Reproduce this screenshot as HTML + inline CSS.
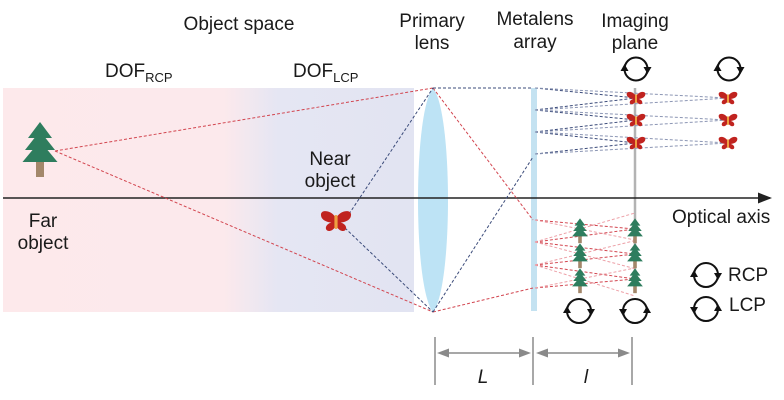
<!DOCTYPE html>
<html><head><meta charset="utf-8"><style>
html,body{margin:0;padding:0;background:#fff;}
svg{display:block;}
text{font-family:"Liberation Sans",Arial,sans-serif;fill:#1a1a1a;}
</style></head><body>
<svg width="784" height="400" viewBox="0 0 784 400" xmlns="http://www.w3.org/2000/svg">
<defs>
<linearGradient id="bg" x1="0" y1="0" x2="414" y2="0" gradientUnits="userSpaceOnUse">
<stop offset="0" stop-color="#fde9eb"/>
<stop offset="0.54" stop-color="#fce9ec"/>
<stop offset="0.67" stop-color="#e5e6f3"/>
<stop offset="1" stop-color="#e2e4f2"/>
</linearGradient>
<g id="bf">
<path d="M-1,-4 C-4,-10 -14,-12 -15,-7 C-15.5,-2 -11,1.5 -1,2 Z" fill="#c0231f"/>
<path d="M-1,1 C-6,1 -11,4 -10,8 C-9,11 -4,11 -1,6 Z" fill="#c0231f"/>
<path d="M1,-4 C4,-10 14,-12 15,-7 C15.5,-2 11,1.5 1,2 Z" fill="#c0231f"/>
<path d="M1,1 C6,1 11,4 10,8 C9,11 4,11 1,6 Z" fill="#c0231f"/>
<rect x="-1.6" y="-6" width="3.2" height="14" rx="1.5" fill="#eea040"/>
</g>
<g id="tree">
<rect x="-4" y="11" width="8" height="16" fill="#a3876a"/>
<polygon points="0,-28 -12,-12 12,-12" fill="#2e7d5e"/>
<polygon points="0,-19 -15,0 15,0" fill="#2e7d5e"/>
<polygon points="0,-9 -17.5,12 17.5,12" fill="#2e7d5e"/>
</g>
</defs>

<!-- object space band -->
<rect x="3" y="88" width="411" height="224" fill="url(#bg)"/>

<!-- primary lens -->
<path d="M433,88 C453,112 453,288 433,312 C413,288 413,112 433,88 Z" fill="#bde3f5"/>
<!-- metalens array -->
<rect x="531" y="88" width="6" height="223" fill="#c4e2f1"/>
<!-- imaging plane -->
<line x1="635" y1="88" x2="635" y2="293" stroke="#b3b3b3" stroke-width="2.5"/>

<!-- optical axis -->
<line x1="3" y1="198" x2="770" y2="198" stroke="#222" stroke-width="1.6"/>
<polygon points="772,198 758,192.5 758,203.5" fill="#222"/>

<!-- rays: far object (red) -->
<g stroke="#d2454f" stroke-width="1" stroke-dasharray="3,2" fill="none">
<line x1="55" y1="151" x2="433" y2="88"/>
<line x1="55" y1="151" x2="433" y2="312"/>
<line x1="433" y1="88" x2="533" y2="220"/>
<line x1="433" y1="312" x2="533" y2="288"/>
<line x1="535" y1="220" x2="635" y2="229"/>
<line x1="535" y1="242" x2="635" y2="229"/>
<line x1="535" y1="242" x2="635" y2="254"/>
<line x1="535" y1="265" x2="635" y2="254"/>
<line x1="535" y1="265" x2="635" y2="279"/>
<line x1="535" y1="288" x2="635" y2="279"/>
</g>
<g stroke="#eda0a7" stroke-width="1" stroke-dasharray="3,2" fill="none">
<line x1="535" y1="220" x2="635" y2="240"/>
<line x1="535" y1="242" x2="635" y2="213"/>
<line x1="535" y1="242" x2="635" y2="268.7"/>
<line x1="535" y1="265" x2="635" y2="240.6"/>
<line x1="535" y1="265" x2="635" y2="296"/>
<line x1="535" y1="288" x2="635" y2="268"/>
</g>

<!-- rays: near object (blue) -->
<g stroke="#3b4b7a" stroke-width="1" stroke-dasharray="3,2" fill="none">
<line x1="349" y1="214" x2="433" y2="88"/>
<line x1="345" y1="228" x2="433" y2="312"/>
<line x1="433" y1="88" x2="533" y2="88"/>
<line x1="433" y1="312" x2="533" y2="157"/>
<line x1="535" y1="88" x2="636" y2="98"/>
<line x1="535" y1="110" x2="636" y2="98"/>
<line x1="535" y1="110" x2="636" y2="120"/>
<line x1="535" y1="132" x2="636" y2="120"/>
<line x1="535" y1="132" x2="636" y2="143"/>
<line x1="535" y1="154" x2="636" y2="143"/>
</g>
<g stroke="#8c96b4" stroke-width="1" stroke-dasharray="3,2" fill="none">
<line x1="535" y1="88" x2="728" y2="98"/>
<line x1="535" y1="110" x2="728" y2="98"/>
<line x1="535" y1="110" x2="728" y2="120"/>
<line x1="535" y1="132" x2="728" y2="120"/>
<line x1="535" y1="132" x2="728" y2="143"/>
<line x1="535" y1="154" x2="728" y2="143"/>
</g>

<!-- objects -->
<use href="#tree" transform="translate(40,150)"/>
<use href="#bf" transform="translate(336,221)"/>

<!-- images -->
<use href="#bf" transform="translate(636,98) scale(0.62)"/>
<use href="#bf" transform="translate(636,120) scale(0.62)"/>
<use href="#bf" transform="translate(636,143) scale(0.62)"/>
<use href="#bf" transform="translate(728,98) scale(0.62)"/>
<use href="#bf" transform="translate(728,120) scale(0.62)"/>
<use href="#bf" transform="translate(728,143) scale(0.62)"/>
<use href="#tree" transform="translate(580,231) scale(0.45)"/>
<use href="#tree" transform="translate(580,256) scale(0.45)"/>
<use href="#tree" transform="translate(580,281) scale(0.45)"/>
<use href="#tree" transform="translate(635,231) scale(0.45)"/>
<use href="#tree" transform="translate(635,256) scale(0.45)"/>
<use href="#tree" transform="translate(635,281) scale(0.45)"/>

<!-- circular polarization icons -->
<g fill="none" stroke="#111" stroke-width="2">
<circle cx="636" cy="69" r="11.5"/>
<circle cx="729" cy="69" r="11.5"/>
<circle cx="579" cy="311" r="12"/>
<circle cx="635" cy="311" r="12"/>
<circle cx="706" cy="275" r="12"/>
<circle cx="706" cy="309" r="12"/>
</g>
<g fill="#111">
<polygon points="624.5,64 620.5,71 628.5,71"/>
<polygon points="647.5,74 643.5,67 651.5,67"/>
<polygon points="717.5,64 713.5,71 721.5,71"/>
<polygon points="740.5,74 736.5,67 744.5,67"/>
<polygon points="567,306 563,313 571,313"/>
<polygon points="591,316 587,309 595,309"/>
<polygon points="623,316 619,309 627,309"/>
<polygon points="647,306 643,313 651,313"/>
<polygon points="694,270 690,277 698,277"/>
<polygon points="718,280 714,273 722,273"/>
<polygon points="694,314 690,307 698,307"/>
<polygon points="718,304 714,311 722,311"/>
</g>

<!-- dimension lines -->
<g stroke="#8a8a8a" stroke-width="1.5">
<line x1="435" y1="337" x2="435" y2="385"/>
<line x1="533" y1="337" x2="533" y2="385"/>
<line x1="632" y1="337" x2="632" y2="385"/>
<line x1="445" y1="353" x2="521" y2="353"/>
<line x1="545" y1="353" x2="620" y2="353"/>
</g>
<g fill="#8a8a8a">
<polygon points="437,353 449,348.5 449,357.5"/>
<polygon points="531,353 519,348.5 519,357.5"/>
<polygon points="536,353 548,348.5 548,357.5"/>
<polygon points="630,353 618,348.5 618,357.5"/>
</g>

<!-- labels -->
<g font-size="19">
<text x="239" y="30" text-anchor="middle">Object space</text>
<text x="432" y="27" text-anchor="middle">Primary</text>
<text x="432" y="49" text-anchor="middle">lens</text>
<text x="535" y="25" text-anchor="middle">Metalens</text>
<text x="535" y="48" text-anchor="middle">array</text>
<text x="635" y="27" text-anchor="middle">Imaging</text>
<text x="635" y="49" text-anchor="middle">plane</text>
<text x="105" y="77">DOF<tspan font-size="13" dy="5">RCP</tspan></text>
<text x="293" y="77">DOF<tspan font-size="13" dy="5">LCP</tspan></text>
<text x="330" y="165" text-anchor="middle">Near</text>
<text x="330" y="187" text-anchor="middle">object</text>
<text x="43" y="227" text-anchor="middle">Far</text>
<text x="43" y="249" text-anchor="middle">object</text>
<text x="672" y="223">Optical axis</text>
<text x="728" y="281">RCP</text>
<text x="729" y="311">LCP</text>
<text x="483" y="383" text-anchor="middle" font-style="italic">L</text>
<text x="586" y="383" text-anchor="middle" font-style="italic">l</text>
</g>
</svg>
</body></html>
